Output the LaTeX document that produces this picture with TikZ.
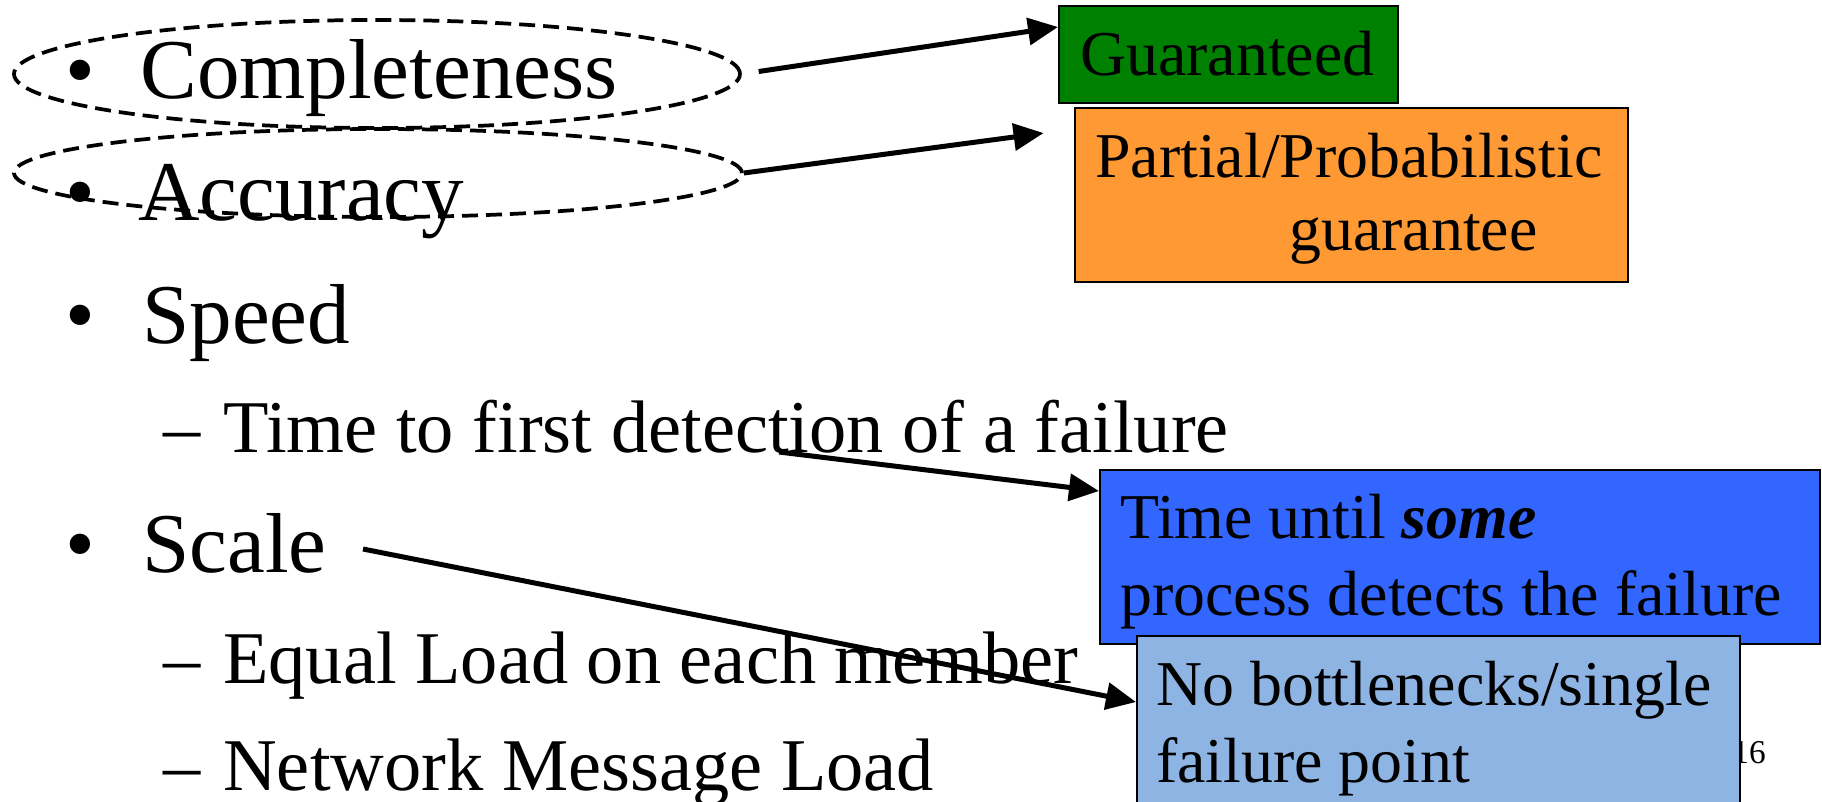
\documentclass[tikz,border=0pt]{standalone}
\usepackage{fontspec}
\setmainfont{Liberation Serif}
\usepackage{xcolor}
\usetikzlibrary{shapes.geometric,arrows.meta,calc}

\begin{document}
\begin{tikzpicture}[x=0.75pt,y=0.75pt,yscale=-1,xscale=1,
  item/.style={anchor=base west,inner sep=0pt,font=\fontsize{63.8}{70}\selectfont},
  subitem/.style={anchor=base west,inner sep=0pt,font=\fontsize{55.8}{60}\selectfont},
  bul/.style={anchor=base,inner sep=0pt,font=\fontsize{63.8}{70}\selectfont},
  dsh/.style={anchor=base,inner sep=0pt,font=\fontsize{55.8}{60}\selectfont},
  ring/.style={draw,ellipse,inner sep=0pt,line width=2.8pt,dash pattern=on 12pt off 6pt},
  note/.style={draw,line width=1.2pt,anchor=north west,inner sep=0pt},
  notetext/.style={anchor=base west,inner sep=0pt,font=\fontsize{47.9}{57}\selectfont},
  pointer/.style={line width=3.75pt,-{Triangle[length=22.5pt,width=20pt]}}
]
\clip (0,0) rectangle (1822,801);

% Text Node
\node [bul] (b1) at (80,98) {•};
\node [item] (comp) at (140,98) {Completeness};
% Text Node
\node [bul] (b2) at (80,220) {•};
\node [item] (acc) at (138,220) {Accuracy};
% Text Node
\node [bul] (b3) at (80,343) {•};
\node [item] (speed) at (142,343) {Speed};
\node [dsh] (d1) at (182,452) {–};
\node [subitem] (first) at (223,452) {Time to first detection of a failure};
% Text Node
\node [bul] (b4) at (80,572) {•};
\node [item] (scale) at (142,572) {Scale};
\node [dsh] (d2) at (182,683) {–};
\node [subitem] (equal) at (223,683) {Equal Load on each member};
\node [dsh] (d3) at (182,790) {–};
\node [subitem] (netw) at (223,790) {Network Message Load};
% Text Node
\node [anchor=base east,inner sep=0pt,font=\fontsize{25}{28}\selectfont] (pageno) at (1766,763) {16};

%Shape: Ellipse
\node [ring,minimum width=544.5pt,minimum height=81pt] (ell1) at (377,74) {};
%Shape: Ellipse
\node [ring,minimum width=546pt,minimum height=66pt] (ell2) at (378,173) {};

%Shape: Rectangle
\node [note,fill={rgb, 255:red, 0; green, 128; blue, 0 },minimum width=254.25pt,minimum height=72.75pt] (good) at (1058,5) {};
%Shape: Rectangle
\node [note,fill={rgb, 255:red, 255; green, 153; blue, 51 },minimum width=414.75pt,minimum height=130.5pt] (part) at (1074,107) {};
%Shape: Rectangle
\node [note,fill={rgb, 255:red, 51; green, 102; blue, 255 },minimum width=540pt,minimum height=130.5pt] (some) at (1099,469) {};
%Shape: Rectangle
\node [note,fill={rgb, 255:red, 142; green, 180; blue, 227 },minimum width=452.25pt,minimum height=150pt] (nobot) at (1136,635) {};

% Text Node
\node [notetext] (goodtxt) at (1080,75) {Guaranteed};
\node [notetext] (parttxta) at (1095,177) {Partial/Probabilistic};
\node [notetext] (parttxtb) at (1289,250) {guarantee};
\node [notetext] (sometxta) at (1120,538) {Time until \textbf{\textit{some}}};
\node [notetext] (sometxtb) at (1120,615) {process detects the failure};
\node [notetext] (nobottxta) at (1156,705) {No bottlenecks/single};
\node [notetext] (nobottxtb) at (1156,782) {failure point};

\coordinate (det) at (779,452);
\coordinate (scl) at (363,549);

%Straight Lines
\draw [pointer,shorten <=12.75pt] (ell1.east) -- ($(good.north west)+(0,22)$);
%Straight Lines
\draw [pointer,shorten >=23pt] (ell2.east) -- ($(part.north west)+(0,22)$);
%Straight Lines
\draw [pointer] (det) -- ($(some.north west)+(0,22)$);
%Straight Lines
\draw [pointer] (scl) -- ($(nobot.north west)+(0,67)$);

\end{tikzpicture}
\end{document}
